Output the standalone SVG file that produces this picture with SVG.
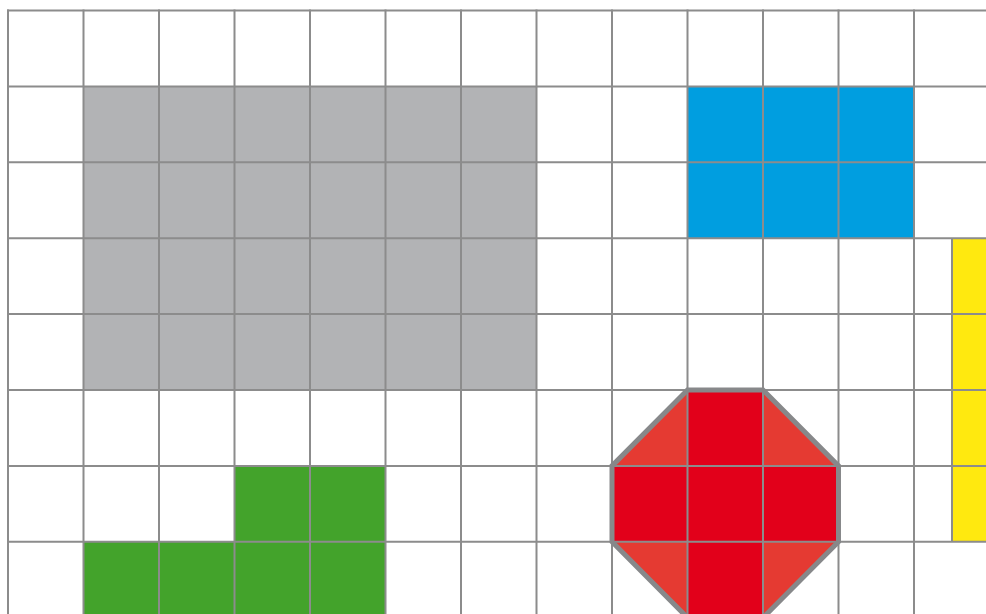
<svg xmlns="http://www.w3.org/2000/svg" width="986" height="614" viewBox="0 0 986 614">
<style>
.g{stroke:#8c8c8c;stroke-width:2;fill:none}
.oct{fill:none;stroke:#87888a;stroke-width:5;stroke-linejoin:miter}
</style>
<rect x="0" y="0" width="986" height="614" fill="#ffffff"/>
<g id="gray-block"><rect x="83.5" y="86.4" width="453" height="303.6" fill="#b2b3b5"/></g>
<g id="blue-block"><rect x="687.5" y="86.4" width="226.5" height="151.8" fill="#009ee0"/></g>
<g id="yellow-block"><rect x="952" y="238.2" width="40" height="303.6" fill="#ffe90f"/></g>
<g id="green-block"><path d="M234.5 465.9H385.5V620H83.5V541.8H234.5Z" fill="#43a32b"/></g>
<g id="red-octagon">
<path d="M687.5 390H763L838.5 465.9V541.8L763 617.7H687.5L612 541.8V465.9Z" fill="#e53a32"/>
<path d="M687.5 390H763V465.9H838.5V541.8H763V617.7H687.5V541.8H612V465.9H687.5Z" fill="#e2001a"/>
</g>
<g id="grid" class="g">
<path d="M7 10.5H986M7 86.4H986M7 162.3H986M7 238.2H986M7 314.1H986M7 390H986M7 465.9H986M7 541.8H986"/>
<path d="M8 9.5V614M83.5 9.5V614M159 9.5V614M234.5 9.5V614M310 9.5V614M385.5 9.5V614M461 9.5V614M536.5 9.5V614M612 9.5V614M687.5 9.5V614M763 9.5V614M838.5 9.5V614M914 9.5V614M952 238.2V541.8"/>
</g>
<g id="octagon-outline"><path class="oct" d="M687.5 390H763L838.5 465.9V541.8L763 617.7H687.5L612 541.8V465.9Z"/></g>
</svg>
